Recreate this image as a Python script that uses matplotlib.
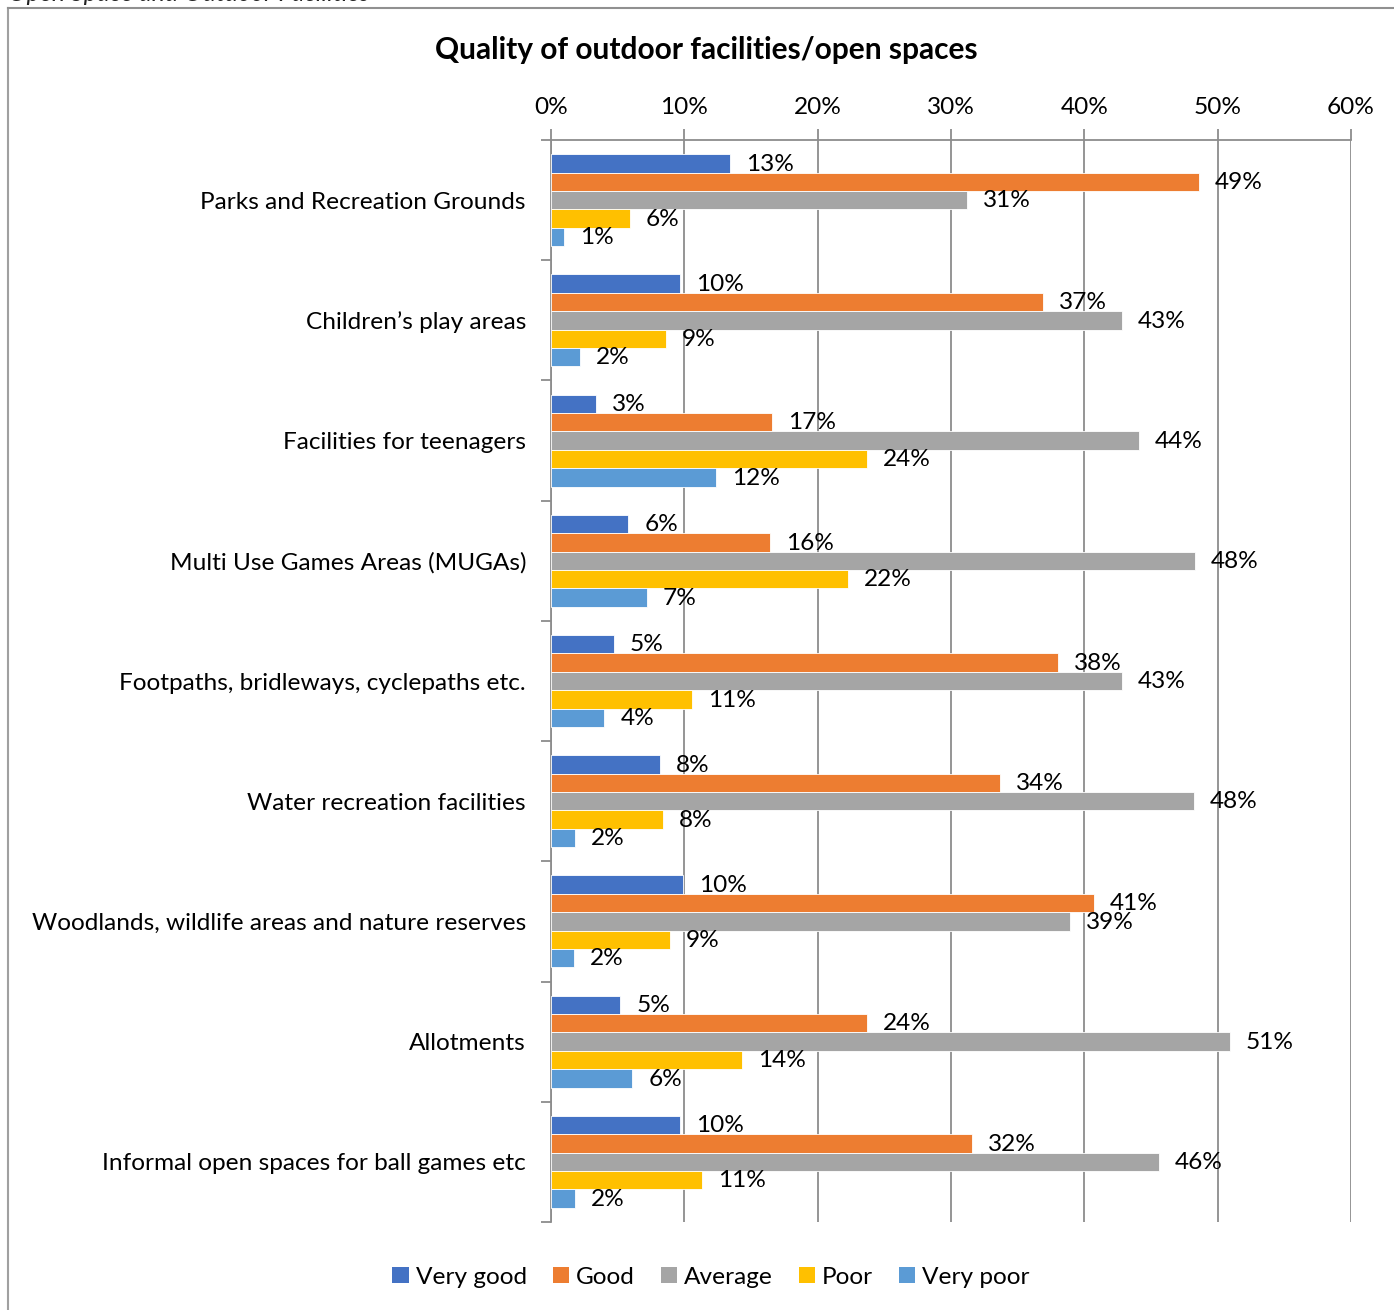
import numpy as np
import matplotlib.pyplot as plt
from matplotlib.lines import Line2D
from matplotlib.patches import Patch

plt.rcParams['font.family'] = ['Lato', 'DejaVu Sans']

categories = [
    'Parks and Recreation Grounds',
    'Children\u2019s play areas',
    'Facilities for teenagers',
    'Multi Use Games Areas (MUGAs)',
    'Footpaths, bridleways, cyclepaths etc.',
    'Water recreation facilities',
    'Woodlands, wildlife areas and nature reserves',
    'Allotments',
    'Informal open spaces for ball games etc',
]
series_names = ['Very good', 'Good', 'Average', 'Poor', 'Very poor']
very_good = [13.4, 9.7, 3.4, 5.8, 4.7, 8.2, 9.9, 5.2, 9.7]
good = [48.6, 36.9, 16.6, 16.4, 38.0, 33.7, 40.7, 23.7, 31.6]
average = [31.2, 42.8, 44.1, 48.3, 42.8, 48.2, 38.9, 50.9, 45.6]
poor = [5.9, 8.6, 23.7, 22.3, 10.6, 8.4, 8.9, 14.3, 11.3]
very_poor = [1.0, 2.2, 12.4, 7.2, 4.0, 1.8, 1.7, 6.1, 1.8]
colors = ['#4472C4', '#ED7D31', '#A5A5A5', '#FFC000', '#5B9BD5']

W, H = 1394, 1310
fig = plt.figure(figsize=(W / 100, H / 100), dpi=100)

# plot area in pixel coordinates
x0, x1, y0, y1 = 551, 1351, 140, 1222
ax = fig.add_axes([x0 / W, 1 - y1 / H, (x1 - x0) / W, (y1 - y0) / H])

fs = 17.6
grid_c = '#8C8C8C'
n = len(categories)
y = np.arange(n)
h = 0.153
data = [very_good, good, average, poor, very_poor]
for i, (vals, c) in enumerate(zip(data, colors)):
    pos = y + (i - 2) * h
    ax.barh(pos, vals, height=h, color=c, edgecolor='white', linewidth=0.6, zorder=3)
    for p, v in zip(pos, vals):
        ax.annotate(f'{v:.0f}%', (v, p), xytext=(11.5, -0.5), textcoords='offset points',
                    va='center', ha='left', fontsize=fs, color='black', zorder=4)

ax.set_xlim(0, 60)
ax.set_ylim(n - 0.5, -0.5)
ax.xaxis.tick_top()
ax.set_xticks(np.arange(0, 61, 10))
ax.set_xticklabels([f'{t}%' for t in range(0, 61, 10)])
ax.tick_params(axis='x', which='major', length=8, color=grid_c, width=1.3,
               labelsize=fs, pad=8)
ax.set_yticks(y)
ax.set_yticklabels(categories)
ax.tick_params(axis='y', which='major', length=0, labelsize=fs, pad=18)
ax.set_yticks(np.arange(-0.5, n, 1), minor=True)
ax.tick_params(axis='y', which='minor', length=7, color=grid_c, width=1.3)
ax.grid(axis='x', color=grid_c, linewidth=1.3, zorder=0)
for s in ['right', 'bottom']:
    ax.spines[s].set_visible(False)
for s in ['left', 'top']:
    ax.spines[s].set_color(grid_c)
    ax.spines[s].set_linewidth(1.3)

fig.text(706 / W, 1 - 50 / H, 'Quality of outdoor facilities/open spaces',
         ha='center', va='center', fontsize=21.5, fontweight='bold')

# heading of the page section, running off the top edge
fig.text(8 / W, 1 - 1 / H, 'Open Space and Outdoor Facilities', ha='left',
         va='baseline', fontsize=18, style='italic', color='#222222')

# chart frame, left and top edges only
fig.add_artist(Line2D([8 / W, 8 / W], [0, 1 - 8 / H], color='#A0A0A0', lw=1.5))
fig.add_artist(Line2D([8 / W, 1393 / W], [1 - 8 / H, 1 - 8 / H], color='#909090', lw=1.5))

handles = [Patch(facecolor=c, label=nm) for c, nm in zip(colors, series_names)]
fig.legend(handles=handles, loc='center', bbox_to_anchor=(711 / W, 1 - 1277 / H),
           ncol=5, frameon=False, fontsize=fs, handlelength=0.68, handleheight=0.68,
           handletextpad=0.28, columnspacing=1.05)

fig.savefig('out.png', dpi=100, facecolor='white')
